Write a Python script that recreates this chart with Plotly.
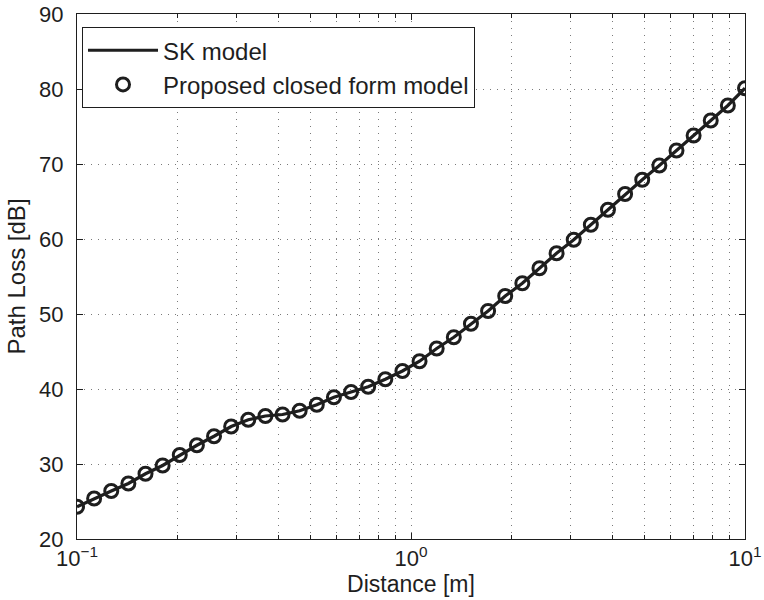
import numpy as np
import plotly.graph_objects as go

# Distance samples (log-spaced, 40 points from 0.1 m to 10 m)
distance = list(np.logspace(-1, 1, 40))

# Path loss [dB]
sk_model = [24.3, 25.4, 26.4, 27.4, 28.7, 29.8, 31.2, 32.5, 33.7, 35.0,
            35.9, 36.4, 36.6, 37.1, 37.9, 38.9, 39.6, 40.3, 41.3, 42.4,
            43.7, 45.4, 46.9, 48.7, 50.4, 52.4, 54.1, 56.1, 58.1, 59.9,
            61.9, 63.9, 66.0, 67.9, 69.8, 71.8, 73.8, 75.8, 77.8, 80.1]
proposed = list(sk_model)

x_tickvals = [0.1, 1, 10]
x_ticktext = ["10<sup>−1</sup>", "10<sup>0</sup>", "10<sup>1</sup>"]
x_minor = [0.2, 0.3, 0.4, 0.5, 0.6, 0.7, 0.8, 0.9, 2, 3, 4, 5, 6, 7, 8, 9]

FONT = "Liberation Sans, Arial, sans-serif"
INK = "#1e1e1e"
GRID = "#7a7a7a"
DOTS = "1px,6px"

fig = go.Figure()
fig.add_trace(go.Scatter(
    x=distance, y=sk_model, mode="lines", name="SK model",
    line=dict(color=INK, width=3.2),
))
fig.add_trace(go.Scatter(
    x=distance, y=proposed, mode="markers", name="Proposed closed form model",
    marker=dict(symbol="circle-open", size=13, color=INK, line=dict(width=3, color=INK)),
))

fig.update_layout(
    width=764, height=600,
    margin=dict(l=77, r=19, t=14, b=61),
    paper_bgcolor="white", plot_bgcolor="white",
    font=dict(family=FONT, color=INK, size=21),
    showlegend=True,
    legend=dict(
        x=0.0075, y=0.975, xanchor="left", yanchor="top",
        bgcolor="white", bordercolor=INK, borderwidth=1,
        font=dict(size=24, family=FONT, color=INK),
        itemwidth=70, tracegroupgap=0,
    ),
)

fig.update_xaxes(
    type="log", range=[-1, 1], automargin=False,
    tickvals=x_tickvals, ticktext=x_ticktext,
    ticks="inside", ticklen=6, tickcolor=INK,
    showline=True, linecolor=INK, linewidth=1, mirror="ticks",
    showgrid=True, gridcolor=GRID, griddash=DOTS, gridwidth=1,
    minor=dict(tickvals=x_minor, ticks="inside", ticklen=4, tickcolor=INK,
               showgrid=True, gridcolor=GRID, griddash=DOTS, gridwidth=1),
    tickfont=dict(size=22),
    title=dict(text="Distance [m]", font=dict(size=23), standoff=5),
    zeroline=False,
)
fig.update_yaxes(
    range=[20, 90], dtick=10, tick0=20, automargin=False,
    ticks="inside", ticklen=6, tickcolor=INK,
    showline=True, linecolor=INK, linewidth=1, mirror="ticks",
    showgrid=True, gridcolor=GRID, griddash=DOTS, gridwidth=1,
    tickfont=dict(size=22),
    ticklabelstandoff=8,
    title=dict(text="Path Loss [dB]", font=dict(size=24), standoff=6),
    zeroline=False,
)

fig.write_html("out.html")
